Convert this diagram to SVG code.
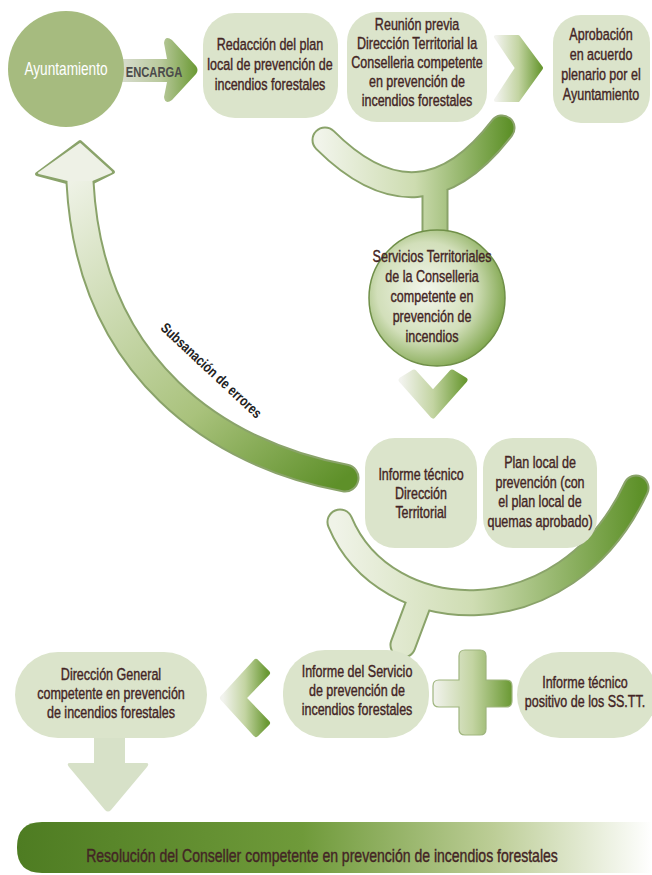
<svg xmlns="http://www.w3.org/2000/svg" width="652" height="875" viewBox="0 0 652 875">
<defs>
<style>
.t{font-family:"Liberation Sans",Arial,sans-serif;font-size:16px;fill:#432525;text-anchor:middle;stroke:#432525;stroke-width:0.4}
.box{fill:#dbe4cb}
.ol{fill:none;stroke:#8aa36a;stroke-linecap:round;stroke-linejoin:round}
</style>
<linearGradient id="gR" x1="0" y1="0" x2="1" y2="0"><stop offset="0" stop-color="#f2f3ee"/><stop offset="0.5" stop-color="#c3d4a2"/><stop offset="1" stop-color="#6a9933"/></linearGradient>
<linearGradient id="gEnc" x1="0" y1="0" x2="1" y2="0"><stop offset="0" stop-color="#dcdfd6"/><stop offset="0.55" stop-color="#b9c99c"/><stop offset="1" stop-color="#6a9933"/></linearGradient>
<linearGradient id="gCupT" gradientUnits="userSpaceOnUse" x1="320" y1="0" x2="510" y2="0"><stop offset="0" stop-color="#f1f4ea"/><stop offset="0.5" stop-color="#cddcb0"/><stop offset="1" stop-color="#5e9129"/></linearGradient>
<linearGradient id="gCupL" gradientUnits="userSpaceOnUse" x1="335" y1="0" x2="640" y2="0"><stop offset="0" stop-color="#f0f3e8"/><stop offset="0.45" stop-color="#cfddb3"/><stop offset="1" stop-color="#5e9129"/></linearGradient>
<linearGradient id="gRet" gradientUnits="userSpaceOnUse" x1="345" y1="478" x2="80" y2="160"><stop offset="0" stop-color="#5e9029"/><stop offset="0.35" stop-color="#a9c27c"/><stop offset="1" stop-color="#f1f4ea"/></linearGradient>
<radialGradient id="gCirc" cx="0.42" cy="0.45" r="0.6"><stop offset="0" stop-color="#f3f6ec"/><stop offset="0.6" stop-color="#d2dfba"/><stop offset="1" stop-color="#7ea54b"/></radialGradient>
<linearGradient id="gBar" x1="0" y1="0" x2="1" y2="0"><stop offset="0" stop-color="#4e7c22"/><stop offset="0.45" stop-color="#6f9a3a"/><stop offset="0.75" stop-color="#bccd96"/><stop offset="1" stop-color="#ffffff"/></linearGradient>
</defs>
<rect width="652" height="875" fill="#ffffff"/>

<g id="connectors">
  <g id="encarga">
    <path d="M116 59 H167 L164 43 Q165 35 172 40 L196 66 Q199 70 196 74 L172 100 Q165 105 164 97 L167 82 H116 Z" fill="url(#gEnc)"/>
    <text x="154" y="77" transform="translate(154 0) scale(0.8 1) translate(-154 0)" style="font-family:'Liberation Sans',Arial,sans-serif;font-size:14px;font-weight:bold;fill:#4b4b4b;text-anchor:middle">ENCARGA</text>
  </g>
  <path d="M496 37 L518 37 L541 68 L518 100 L496 100 L517 68 Z" fill="url(#gR)" stroke="url(#gR)" stroke-width="4" stroke-linejoin="round"/>
  <g id="cupTop">
    <path class="ol" d="M325 140 Q420 235 502 128 M435 190 V236" stroke-width="27"/>
    <path d="M325 140 Q420 235 502 128 M435 190 V236" fill="none" stroke="url(#gCupT)" stroke-width="23" stroke-linecap="round"/>
  </g>
  <path d="M401 380 L414 372 L433 393 L452 372 L465 380 L433 416 Z" fill="url(#gR)" stroke="url(#gR)" stroke-width="5" stroke-linejoin="round"/>
  <g id="return">
    <path class="ol" d="M345 478 C220 455 90 370 80 182" stroke-width="29"/>
    <path class="ol" d="M80 142 L113 172 L93 182 L67 182 L37 174 Z" stroke-width="4" fill="#eef1e6"/>
    <path d="M345 478 C220 455 90 370 80 182" fill="none" stroke="url(#gRet)" stroke-width="25" stroke-linecap="round"/>
    <path d="M80 144 L111 172 L92 180 L68 180 L39 173 Z" fill="#eef1e6" stroke="#eef1e6" stroke-width="2" stroke-linejoin="round"/>
    <text class="t" transform="translate(208 374) rotate(43) scale(0.8 1)" x="0" y="0" style="font-size:14.5px;font-weight:bold;fill:#222;stroke:none">Subsanación de errores</text>
  </g>
  <g id="cupLow">
    <path class="ol" d="M340 522 C385 630 565 640 636 488 M418 605 L403 645" stroke-width="27"/>
    <path d="M340 522 C385 630 565 640 636 488 M418 605 L403 645" fill="none" stroke="url(#gCupL)" stroke-width="23" stroke-linecap="round"/>
  </g>
  <path d="M256 662 L267 673 L243 698 L267 723 L256 734 L223 698 Z" fill="url(#gR)" stroke="url(#gR)" stroke-width="6" stroke-linejoin="round"/>
  <path d="M459 656 Q459 650 465 650 H480 Q486 650 486 656 V680 H506 Q512 680 512 686 V701 Q512 707 506 707 H486 V729 Q486 735 480 735 H465 Q459 735 459 729 V707 H439 Q433 707 433 701 V686 Q433 680 439 680 H459 Z" fill="url(#gR)" stroke="#9fb57f" stroke-width="1.2"/>
  <path d="M94 738 H125 V763 H146 Q150 763 147 767 L111 810 Q108 813 105 810 L69 767 Q66 763 70 763 H94 Z" fill="#d7e1c8"/>
</g>

<g id="ayuntamiento">
  <circle cx="66" cy="69" r="58" fill="#a6bb7f"/>
  <text class="t" transform="translate(66 0) scale(0.78 1)" x="0" y="75" style="font-size:17.5px;fill:#ffffff;stroke:none">Ayuntamiento</text>
</g>

<g id="redaccion">
  <rect class="box" x="203" y="13" width="135" height="105" rx="32"/>
  <text class="t" transform="translate(270 0) scale(0.76 1)" style="font-size:16.5px"><tspan x="0" y="50">Redacción del plan</tspan><tspan x="0" y="70">local de prevención de</tspan><tspan x="0" y="90">incendios forestales</tspan></text>
</g>

<g id="reunion">
  <rect class="box" x="347" y="12" width="140" height="110" rx="30"/>
  <text class="t" transform="translate(417 0) scale(0.76 1)" style="font-size:16.5px"><tspan x="0" y="30">Reunión previa</tspan><tspan x="0" y="49">Dirección Territorial la</tspan><tspan x="0" y="68">Conselleria competente</tspan><tspan x="0" y="87">en prevención de</tspan><tspan x="0" y="106">incendios forestales</tspan></text>
</g>

<g id="aprobacion">
  <rect class="box" x="553" y="15" width="97" height="108" rx="28"/>
  <text class="t" transform="translate(601 0) scale(0.76 1)" style="font-size:16.5px"><tspan x="0" y="40">Aprobación</tspan><tspan x="0" y="60">en acuerdo</tspan><tspan x="0" y="80">plenario por el</tspan><tspan x="0" y="100">Ayuntamiento</tspan></text>
</g>

<g id="servicios">
  <circle cx="437" cy="298" r="68" fill="url(#gCirc)" stroke="#6f8f48" stroke-width="1.5"/>
  <text class="t" transform="translate(432 0) scale(0.76 1)" style="font-size:16.5px"><tspan x="0" y="262">Servicios Territoriales</tspan><tspan x="0" y="282">de la Conselleria</tspan><tspan x="0" y="302">competente en</tspan><tspan x="0" y="322">prevención de</tspan><tspan x="0" y="342">incendios</tspan></text>
</g>

<g id="informeDT">
  <rect class="box" x="365" y="438" width="112" height="110" rx="30"/>
  <text class="t" transform="translate(421 0) scale(0.78 1)" style="font-size:16px"><tspan x="0" y="480">Informe técnico</tspan><tspan x="0" y="499">Dirección</tspan><tspan x="0" y="518">Territorial</tspan></text>
</g>

<g id="planLocal">
  <rect class="box" x="483" y="438" width="114" height="110" rx="30"/>
  <text class="t" transform="translate(540 0) scale(0.76 1)" style="font-size:16.5px"><tspan x="0" y="468">Plan local de</tspan><tspan x="0" y="488">prevención (con</tspan><tspan x="0" y="507">el plan local de</tspan><tspan x="0" y="527">quemas aprobado)</tspan></text>
</g>

<g id="direccionGeneral">
  <rect class="box" x="15" y="652" width="192" height="86" rx="43"/>
  <text class="t" transform="translate(111 0) scale(0.76 1)" style="font-size:16.5px"><tspan x="0" y="680">Dirección General</tspan><tspan x="0" y="699">competente en prevención</tspan><tspan x="0" y="718">de incendios forestales</tspan></text>
</g>

<g id="informeServicio">
  <rect class="box" x="283" y="650" width="146" height="88" rx="42"/>
  <text class="t" transform="translate(357 0) scale(0.76 1)" style="font-size:16.5px"><tspan x="0" y="677">Informe del Servicio</tspan><tspan x="0" y="696">de prevención de</tspan><tspan x="0" y="715">incendios forestales</tspan></text>
</g>

<g id="informePositivo">
  <rect class="box" x="517" y="652" width="140" height="86" rx="43"/>
  <text class="t" transform="translate(585 0) scale(0.76 1)" style="font-size:16.5px"><tspan x="0" y="688">Informe técnico</tspan><tspan x="0" y="707">positivo de los SS.TT.</tspan></text>
</g>

<g id="resolucion">
  <path d="M42 822 H652 V873 H42 Q17 873 17 848 V847 Q17 822 42 822 Z" fill="url(#gBar)"/>
  <text class="t" transform="translate(322 0) scale(0.78 1)" x="0" y="862" style="font-size:18px">Resolución del Conseller competente en prevención de incendios forestales</text>
</g>
</svg>
